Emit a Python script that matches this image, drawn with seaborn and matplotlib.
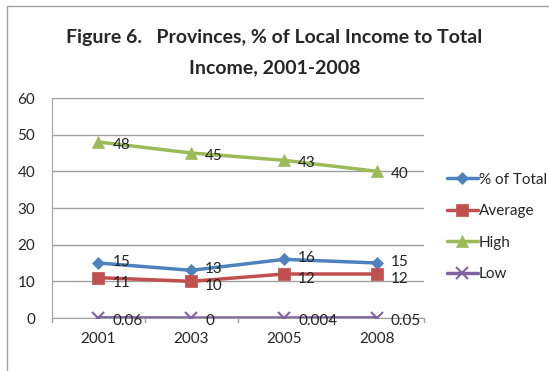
import matplotlib
matplotlib.use("Agg")
import matplotlib.pyplot as plt
import seaborn as sns
import pandas as pd
from matplotlib.lines import Line2D

years = ["2001", "2003", "2005", "2008"]
pct_total = [15, 13, 16, 15]
average = [11, 10, 12, 12]
high = [48, 45, 43, 40]
low = [0.06, 0, 0.004, 0.05]
labels_total = ["15", "13", "16", "15"]
labels_avg = ["11", "10", "12", "12"]
labels_high = ["48", "45", "43", "40"]
labels_low = ["0.06", "0", "0.004", "0.05"]
series_names = ["% of Total", "Average", "High", "Low"]

sns.set_style("white")
plt.rcParams["font.family"] = ["Lato", "DejaVu Sans"]

colors = ["#4F81BD", "#C0504D", "#9BBB59", "#8064A2"]
markers = ["D", "s", "^", "x"]
msizes = [6, 8, 8, 8]
label_dy = [1, -3.5, -2, -2]

rows = []
for name, vals in zip(series_names, [pct_total, average, high, low]):
    for i, (y, v) in enumerate(zip(years, vals)):
        rows.append({"pos": i, "year": y, "value": v, "series": name})
df = pd.DataFrame(rows)

fig = plt.figure(figsize=(5.49, 3.71), dpi=100)
ax = fig.add_axes([52 / 549, 1 - 318 / 371, (423.5 - 52) / 549, (318 - 98) / 371])

for name, c, m, ms in zip(series_names, colors, markers, msizes):
    sub = df[df["series"] == name]
    sns.lineplot(data=sub, x="pos", y="value", ax=ax, color=c, marker=m,
                 markersize=ms, linewidth=2.5, markeredgecolor=c,
                 markeredgewidth=1.5 if m == "x" else 0.5, legend=False,
                 zorder=3)

label_sets = [labels_total, labels_avg, labels_high, labels_low]
vals_sets = [pct_total, average, high, low]
for labs, vals, dy in zip(label_sets, vals_sets, label_dy):
    for i, (lab, v) in enumerate(zip(labs, vals)):
        ax.annotate(lab, (i, v), xytext=(10, dy), textcoords="offset points",
                    ha="left", va="center", fontsize=11, color="#222222", zorder=4)

ax.set_xlim(-0.5, 3.5)
ax.set_ylim(0, 60)
ax.set_yticks(range(0, 61, 10))
ax.set_xticks(range(len(years)))
ax.set_xticklabels(years)
ax.set_xlabel("")
ax.set_ylabel("")
ax.yaxis.grid(True, color="#A0A0A0", linewidth=1)
ax.set_axisbelow(True)
for s in ["top", "right"]:
    ax.spines[s].set_visible(False)
ax.spines["left"].set_color("#A0A0A0")
ax.spines["bottom"].set_color("#A0A0A0")
ax.tick_params(axis="y", length=4, color="#A0A0A0", labelsize=11, pad=8)
ax.tick_params(axis="x", length=0, labelsize=11, pad=10)
for xb in [-0.5, 0.5, 1.5, 2.5, 3.5]:
    ax.plot([xb, xb], [0, -1.2], color="#A0A0A0", lw=1, clip_on=False, zorder=1)

handles = [Line2D([0], [0], color=c, marker=m, markersize=ms, linewidth=2.5,
                  markeredgecolor=c, markeredgewidth=1.5 if m == "x" else 0.5)
           for c, m, ms in zip(colors, markers, msizes)]
fig.legend(handles, series_names, loc="center left", bbox_to_anchor=(447 / 549, 1 - 227 / 371),
           frameon=False, fontsize=11, handlelength=2.0, handletextpad=0.1,
           labelspacing=1.15, borderaxespad=0, borderpad=0)

fig.text(0.5, 1 - 38 / 371, "Figure 6.   Provinces, % of Local Income to Total",
         ha="center", va="center", fontsize=14, fontweight="bold")
fig.text(0.5, 1 - 68 / 371, "Income, 2001-2008",
         ha="center", va="center", fontsize=14, fontweight="bold")

fig.add_artist(Line2D([7 / 549, 7 / 549], [0, 1 - 6 / 371], color="#A0A0A0", lw=1))
fig.add_artist(Line2D([7 / 549, 1], [1 - 6 / 371, 1 - 6 / 371], color="#A0A0A0", lw=1))

fig.savefig("out.png", dpi=100)
